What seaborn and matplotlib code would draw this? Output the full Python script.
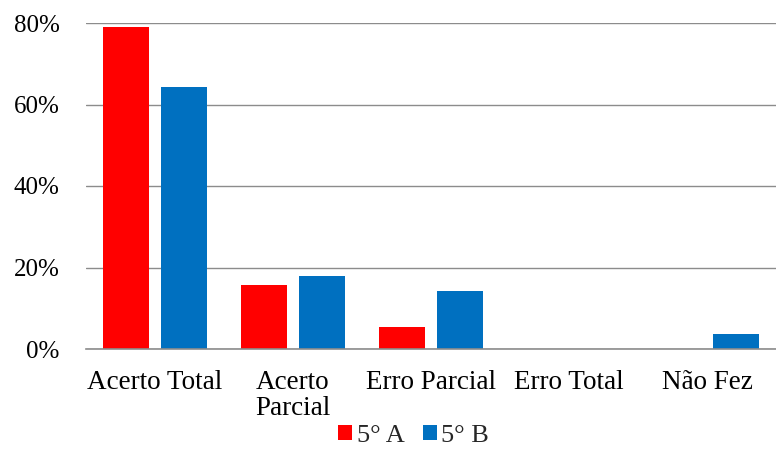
import matplotlib
matplotlib.use("Agg")
import matplotlib.pyplot as plt
import seaborn as sns
import pandas as pd
from matplotlib.ticker import FuncFormatter

categories = ["Acerto Total", "Acerto\nParcial", "Erro Parcial", "Erro Total", "Não Fez"]
turma_a = [0.789, 0.158, 0.053, 0.0, 0.0]
turma_b = [0.643, 0.179, 0.143, 0.0, 0.036]
series_names = ["5° A", "5° B"]
palette = ["#FF0000", "#0070C0"]

df = pd.DataFrame({
    "categoria": categories * 2,
    "valor": turma_a + turma_b,
    "turma": [series_names[0]] * len(categories) + [series_names[1]] * len(categories),
})

sns.set_theme(style="white")
plt.rcParams["font.family"] = ["Liberation Serif", "DejaVu Serif"]

fig = plt.figure(figsize=(7.76, 4.49), dpi=100)
ax = fig.add_axes([86 / 776, 1 - 349 / 449, 1 - 86 / 776, (349 - 23) / 449])

sns.barplot(data=df, x="categoria", y="valor", hue="turma", palette=palette,
            width=0.84, gap=0.207, saturation=1, linewidth=0, ax=ax, zorder=3)

ax.set_ylim(0, 0.8)
ax.set_xlim(-0.5, 4.5)
ax.set_yticks([0, 0.2, 0.4, 0.6, 0.8])
ax.yaxis.set_major_formatter(FuncFormatter(lambda v, _: f"{v * 100:.0f}%"))
ax.grid(axis="y", color="#8C8C8C", linewidth=1.0, zorder=0)
ax.set_axisbelow(True)
for side in ["left", "right", "top"]:
    ax.spines[side].set_visible(False)
ax.spines["bottom"].set_color("#8C8C8C")
ax.spines["bottom"].set_linewidth(1.2)
ax.spines["bottom"].set_zorder(4)
ax.set_xlabel("")
ax.set_ylabel("")
ax.tick_params(axis="y", length=0, pad=19, labelsize=18, labelcolor="black")
ax.tick_params(axis="x", length=0, pad=15, labelsize=19.5, labelcolor="black")
for lbl in ax.get_xticklabels():
    lbl.set_linespacing(1.08)

ax.legend(loc="center", bbox_to_anchor=(413.5 / 776, 1 - 436 / 449),
          bbox_transform=fig.transFigure, ncol=2, frameon=False, fontsize=19,
          handlelength=0.53, handleheight=0.53, handletextpad=0.18,
          columnspacing=0.7, borderpad=0)

fig.savefig("out.png", dpi=100)
